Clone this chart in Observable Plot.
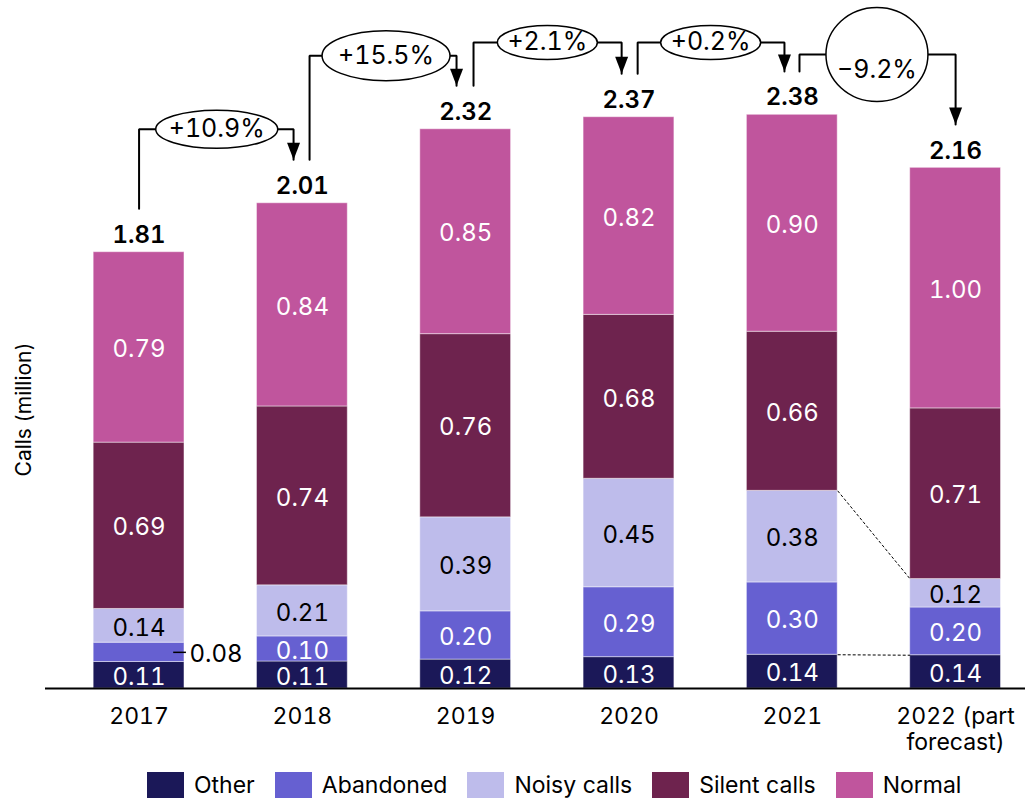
<!DOCTYPE html>
<html>
<head>
<meta charset="utf-8">
<script src="https://cdn.jsdelivr.net/npm/d3@7"></script>
<script src="https://cdn.jsdelivr.net/npm/@observablehq/plot@0.6"></script>
<style>
  body { margin: 0; background: #fff; font-family: Inter, "Liberation Sans", Arial, sans-serif; }
  #chart svg { display: block; }
  #legend { display: flex; align-items: center; margin: 9px 0 0 147px; font-size: 23px; color: #000; }
  #legend .item { display: flex; align-items: center; margin-right: 20px; }
  #legend .sw { width: 37px; height: 27px; margin-right: 10px; }
</style>
</head>
<body>
<div id="chart"></div>
<div id="legend"></div>
<script>
// Years (the last one is partly a forecast)
const years = ["2017", "2018", "2019", "2020", "2021", "2022 (part\nforecast)"];
const seriesNames = ["Other", "Abandoned", "Noisy calls", "Silent calls", "Normal"];

// Calls per category, million
const other     = [0.11, 0.112, 0.12, 0.13, 0.14, 0.138];
const abandoned = [0.08, 0.104, 0.20, 0.29, 0.30, 0.198];
const noisy     = [0.14, 0.212, 0.39, 0.45, 0.38, 0.118];
const silent    = [0.69, 0.742, 0.76, 0.68, 0.66, 0.708];
const normal    = [0.79, 0.843, 0.85, 0.82, 0.90, 0.998];

// Year-on-year change of the total
const changeLabels = ["+10.9%", "+15.5%", "+2.1%", "+0.2%", "\u22129.2%"];

const colors = ["#1b1858", "#6660d1", "#bebceb", "#6e234e", "#c0559d"];
const darkText = ["Noisy calls"];

const seriesValues = [other, abandoned, noisy, silent, normal];

// Stack the segments of each year from the bottom up
const segments = years.flatMap((year, i) => {
  let base = 0;
  return seriesNames.map((name, s) => {
    const value = seriesValues[s][i];
    const seg = {i, s, name, value, y1: base, y2: base + value};
    base += value;
    return seg;
  });
});
const segAt = (i, s) => segments.find(d => d.i === i && d.s === s);
const totals = years.map((_, i) => d3.sum(seriesValues, v => v[i]));

const BAR_HALF = 0.278;   // half bar width, in year steps
const GAP = 0.18;         // clearance above a total label for connectors

// Change bubbles between consecutive years
const bubbles = [
  {from: 0, to: 1, level: 2.32,  startShift: 0,     endShift: -0.054, rx: 61, ry: 19, dx: -4, dy: 0},
  {from: 1, to: 2, level: 2.625, startShift: 0.044, endShift: -0.056, rx: 64, ry: 25, dx: 2,  dy: 0},
  {from: 2, to: 3, level: 2.68,  startShift: 0.048, endShift: -0.045, rx: 50, ry: 17, dx: 0,  dy: 0},
  {from: 3, to: 4, level: 2.68,  startShift: 0.053, endShift: -0.048, rx: 50, ry: 17, dx: 0,  dy: 0},
  {from: 4, to: 5, level: 2.63,  startShift: 0.044, endShift: 0,      rx: 51, ry: 47, dx: 3,  dy: 15}
].map((b, k) => ({...b, label: changeLabels[k]}));

const connectorPoints = bubbles.flatMap((b, k) => [
  {k, x: b.from + b.startShift, y: totals[b.from] + GAP},
  {k, x: b.from + b.startShift, y: b.level},
  {k, x: b.to + b.endShift, y: b.level},
  {k, x: b.to + b.endShift, y: totals[b.to] + GAP}
]);

// Ellipse outline as a custom dot symbol
function ellipse(rx, ry) {
  const c = 0.5523;
  return {
    draw(ctx) {
      ctx.moveTo(rx, 0);
      ctx.bezierCurveTo(rx, ry * c, rx * c, ry, 0, ry);
      ctx.bezierCurveTo(-rx * c, ry, -rx, ry * c, -rx, 0);
      ctx.bezierCurveTo(-rx, -ry * c, -rx * c, -ry, 0, -ry);
      ctx.bezierCurveTo(rx * c, -ry, rx, -ry * c, rx, 0);
      ctx.closePath();
    }
  };
}
// Downward arrowhead whose tip sits on the point
const arrowHead = {
  draw(ctx) {
    ctx.moveTo(-6.5, -17);
    ctx.lineTo(6.5, -17);
    ctx.lineTo(0, 0);
    ctx.closePath();
  }
};

// Dashed guides from 2021 to 2022 at the tops of "Other" and "Noisy calls"
const guides = [0, 2].map(s => ({ya: segAt(4, s).y2, yb: segAt(5, s).y2}));

const inside = segments.filter(d => d.value >= 0.09);
const outside = segments.filter(d => d.value < 0.09);

const chart = Plot.plot({
  width: 1025,
  height: 762,
  marginLeft: 45,
  marginRight: 0,
  marginTop: 1,
  marginBottom: 74,
  style: {fontFamily: 'Inter, "Liberation Sans", Arial, sans-serif', fontSize: "23px", fontVariantNumeric: "tabular-nums", color: "#000", background: "#fff", overflow: "visible"},
  x: {domain: [-0.573, 5.428]},
  y: {domain: [0, 2.85], axis: null},
  color: {domain: seriesNames, range: colors},
  marks: [
    Plot.rect(segments, {
      x1: d => d.i - BAR_HALF, x2: d => d.i + BAR_HALF, y1: "y1", y2: "y2",
      fill: "name", stroke: "white", strokeOpacity: 0.45, strokeWidth: 1
    }),
    Plot.text(inside.filter(d => !darkText.includes(d.name)), {
      x: "i", y: d => (d.y1 + d.y2) / 2, text: d => d.value.toFixed(2),
      fill: "white", fontSize: 24, dy: 2
    }),
    Plot.text(inside.filter(d => darkText.includes(d.name)), {
      x: "i", y: d => (d.y1 + d.y2) / 2, text: d => d.value.toFixed(2),
      fill: "black", fontSize: 24, dy: 2
    }),
    Plot.ruleY(outside, {
      y: d => (d.y1 + d.y2) / 2, x1: d => d.i + BAR_HALF - 0.066, x2: d => d.i + BAR_HALF + 0.012,
      stroke: "black", strokeWidth: 1.5
    }),
    Plot.text(outside, {
      x: d => d.i + BAR_HALF, y: d => (d.y1 + d.y2) / 2, text: d => d.value.toFixed(2),
      textAnchor: "start", dx: 5, fill: "black", fontSize: 24, dy: 2
    }),
    Plot.link(guides, {
      x1: () => 4 + BAR_HALF, x2: () => 5 - BAR_HALF, y1: "ya", y2: "yb",
      stroke: "black", strokeWidth: 1, strokeDasharray: "3,2"
    }),
    Plot.ruleY([0], {stroke: "black", strokeWidth: 2}),
    Plot.text(totals, {
      x: (d, i) => i, y: d => d, text: d => d.toFixed(2),
      dy: -17, fontWeight: 600, fontSize: 24
    }),
    Plot.line(connectorPoints, {x: "x", y: "y", z: "k", stroke: "black", strokeWidth: 2, strokeLinejoin: "miter"}),
    Plot.dot(bubbles, {x: d => d.to + d.endShift, y: d => totals[d.to] + GAP, symbol: arrowHead, fill: "black", stroke: null}),
    ...bubbles.flatMap(b => [
      Plot.dot([b], {x: d => (d.from + d.to) / 2, y: "level", dx: b.dx, symbol: ellipse(b.rx, b.ry), fill: "white", stroke: "black", strokeWidth: 1.5}),
      Plot.text([b], {x: d => (d.from + d.to) / 2, y: "level", dx: b.dx, dy: b.dy, text: "label", fontSize: 25})
    ]),
    Plot.axisX(d3.range(years.length), {
      tickFormat: i => years[i], tickSize: 0, tickPadding: 18, fontSize: 23, lineHeight: 1.1, label: null
    }),
    Plot.text(["Calls (million)"], {frameAnchor: "left", y: () => 1.158, rotate: -90, textAnchor: "middle", dx: -21, fontSize: 21})
  ]
});
document.getElementById("chart").append(chart);

// Legend below the chart
const legend = document.getElementById("legend");
seriesNames.forEach((name, s) => {
  const item = document.createElement("div");
  item.className = "item";
  const sw = document.createElement("span");
  sw.className = "sw";
  sw.style.background = colors[s];
  const label = document.createElement("span");
  label.textContent = name;
  item.append(sw, label);
  legend.append(item);
});
</script>
</body>
</html>
